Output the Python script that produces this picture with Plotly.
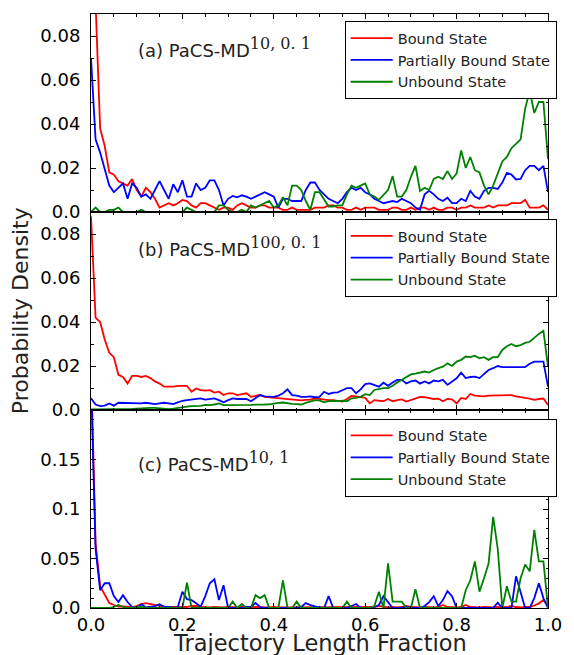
import plotly.graph_objects as go
from plotly.subplots import make_subplots

# x grid: trajectory length fraction (101 bins)
x_frac = [round(i * 0.01, 2) for i in range(101)]

# ---- Panel (a) PaCS-MD 10,0.1 ----
bound_a = [0.25, 0.095, 0.038, 0.030, 0.018, 0.017, 0.014, 0.013, 0.012, 0.015,
           0.010, 0.007, 0.011, 0.009, 0.006, 0.002, 0.003, 0.004, 0.003, 0.004,
           0.0055, 0.005, 0.003, 0.002, 0.004, 0.004, 0.003, 0.002, 0.001, 0.002,
           0.002, 0.001, 0.003, 0.004, 0.003, 0.002, 0.002, 0.003, 0.003, 0.002,
           0.002, 0.002, 0.001, 0.001, 0.002, 0.001, 0.001, 0.001, 0.001, 0.002,
           0.002, 0.002, 0.003, 0.003, 0.002, 0.002, 0.001, 0.001, 0.002, 0.001,
           0.002, 0.002, 0.002, 0.001, 0.001, 0.001, 0.002, 0.002, 0.001, 0.001,
           0.002, 0.001, 0.002, 0.002, 0.001, 0.002, 0.001, 0.001, 0.002, 0.002,
           0.001, 0.002, 0.002, 0.003, 0.002, 0.002, 0.002, 0.003, 0.002, 0.003,
           0.003, 0.003, 0.004, 0.004, 0.004, 0.0055, 0.002, 0.002, 0.002, 0.003,
           0.001]
partial_a = [0.070, 0.033, 0.027, 0.019, 0.012, 0.009, 0.011, 0.013, 0.006, 0.013,
             0.011, 0.007, 0.008, 0.006, 0.010, 0.014, 0.010, 0.006, 0.0126, 0.009,
             0.0144, 0.007, 0.007, 0.013, 0.010, 0.011, 0.0144, 0.0144, 0.010, 0.003,
             0.006, 0.0073, 0.0067, 0.0076, 0.007, 0.006, 0.007, 0.008, 0.009, 0.008,
             0.007, 0.002, 0.006, 0.006, 0.005, 0.005, 0.005, 0.010, 0.0134, 0.0134,
             0.010, 0.008, 0.006, 0.005, 0.004, 0.006, 0.009, 0.011, 0.010, 0.011,
             0.009, 0.008, 0.006, 0.005, 0.004, 0.0045, 0.005, 0.0045, 0.006, 0.005,
             0.004, 0.002, 0.001, 0.008, 0.0096, 0.008, 0.006, 0.005, 0.0065, 0.004,
             0.004, 0.006, 0.005, 0.0096, 0.007, 0.006, 0.0096, 0.011, 0.011, 0.0105,
             0.0134, 0.0178, 0.017, 0.0148, 0.015, 0.019, 0.021, 0.021, 0.019, 0.021,
             0.009]
unbound_a = [0, 0.002, 0, 0, 0.001, 0.001, 0.002, 0, 0, 0,
             0, 0.001, 0, 0, 0, 0, 0, 0, 0, 0,
             0, 0.002, 0.001, 0, 0, 0, 0, 0, 0.003, 0.003,
             0.001, 0, 0, 0.001, 0, 0.003, 0.002, 0.003, 0.004, 0.005,
             0.002, 0.003, 0.0067, 0.003, 0.012, 0.012, 0.010, 0.005, 0.001, 0.009,
             0.009, 0.006, 0.0025, 0.0025, 0.003, 0.003, 0.008, 0.012, 0.011, 0.012,
             0.013, 0.008, 0.007, 0.0055, 0.008, 0.010, 0.0163, 0.007, 0.007, 0.010,
             0.016, 0.021, 0.0096, 0.011, 0.010, 0.015, 0.016, 0.015, 0.0186, 0.015,
             0.0175, 0.028, 0.020, 0.025, 0.019, 0.018, 0.012, 0.008, 0.012, 0.018,
             0.023, 0.025, 0.029, 0.031, 0.033, 0.047, 0.055, 0.045, 0.050, 0.050,
             0.024]

# ---- Panel (b) PaCS-MD 100,0.1 ----
bound_b = [0.088, 0.042, 0.040, 0.032, 0.026, 0.024, 0.016, 0.015, 0.012, 0.0155,
           0.0155, 0.015, 0.0155, 0.0145, 0.013, 0.012, 0.0106, 0.0106, 0.0106, 0.011,
           0.011, 0.011, 0.0083, 0.0098, 0.009, 0.0088, 0.009, 0.0079, 0.0083, 0.0068,
           0.0076, 0.0076, 0.0068, 0.0072, 0.0076, 0.006, 0.0065, 0.0068, 0.006, 0.0058,
           0.0055, 0.0052, 0.005, 0.0048, 0.0049, 0.0045, 0.0044, 0.0046, 0.0047, 0.0053,
           0.005, 0.0046, 0.0045, 0.0045, 0.004, 0.0038, 0.005, 0.0064, 0.0062, 0.006,
           0.0055, 0.003, 0.0045, 0.0042, 0.004, 0.005, 0.004, 0.0045, 0.0048, 0.0038,
           0.0045, 0.0053, 0.006, 0.0058, 0.0055, 0.005, 0.0052, 0.004, 0.005, 0.0048,
           0.003, 0.0055, 0.005, 0.0073, 0.0065, 0.0064, 0.0062, 0.0065, 0.0066, 0.0066,
           0.0066, 0.007, 0.0068, 0.0062, 0.006, 0.0055, 0.0052, 0.0046, 0.005, 0.0052,
           0.0023]
partial_b = [0.0053, 0.0025, 0.0018, 0.002, 0.003, 0.002, 0.0033, 0.0032, 0.003, 0.003,
             0.0028, 0.003, 0.0033, 0.003, 0.0027, 0.003, 0.0033, 0.003, 0.0027, 0.0035,
             0.0042, 0.0045, 0.0047, 0.005, 0.0053, 0.0047, 0.005, 0.0053, 0.0045, 0.0035,
             0.0045, 0.0053, 0.005, 0.005, 0.005, 0.004, 0.0055, 0.0068, 0.0062, 0.006,
             0.006, 0.0065, 0.0076, 0.0094, 0.0068, 0.0065, 0.006, 0.006, 0.0062, 0.0058,
             0.006, 0.0083, 0.0073, 0.0079, 0.008, 0.009, 0.0099, 0.0099, 0.0076, 0.0094,
             0.0118, 0.0121, 0.0112, 0.0106, 0.0124, 0.011, 0.0125, 0.0137, 0.0137, 0.0121,
             0.013, 0.0134, 0.012, 0.013, 0.0121, 0.0134, 0.013, 0.0137, 0.0114, 0.013,
             0.0144, 0.017, 0.0145, 0.015, 0.0152, 0.0145, 0.0165, 0.0182, 0.019, 0.020,
             0.0195, 0.0195, 0.0195, 0.0192, 0.0195, 0.0195, 0.021, 0.022, 0.022, 0.022,
             0.0106]
unbound_b = [0.0003, 0.0003, 0.0002, 0.0003, 0.0004, 0.0003, 0.0004, 0.0003, 0.0004, 0.0005,
             0.0006, 0.0008, 0.0008, 0.001, 0.001, 0.0008, 0.0005, 0.0004, 0.0006, 0.001,
             0.0012, 0.0015, 0.0018, 0.0018, 0.0019, 0.0023, 0.0022, 0.0025, 0.003, 0.0022,
             0.0022, 0.0022, 0.002, 0.0022, 0.0023, 0.0023, 0.0024, 0.0023, 0.0025, 0.0026,
             0.003, 0.0032, 0.0034, 0.003, 0.0028, 0.0027, 0.0025, 0.0032, 0.0038, 0.0045,
             0.0044, 0.0035, 0.004, 0.0042, 0.004, 0.0042, 0.004, 0.0053, 0.0055, 0.006,
             0.0072, 0.0068, 0.0091, 0.0095, 0.0099, 0.0099, 0.011, 0.0125, 0.0137, 0.015,
             0.0162, 0.0165, 0.017, 0.0175, 0.017, 0.0182, 0.019, 0.0197, 0.0212, 0.020,
             0.022, 0.0228, 0.0243, 0.024, 0.0247, 0.0235, 0.024, 0.0228, 0.024, 0.024,
             0.0273, 0.029, 0.030, 0.029, 0.0295, 0.0305, 0.031, 0.033, 0.0346, 0.036,
             0.0197]

# ---- Panel (c) PaCS-MD 10,1 ----
bound_c = [0.25, 0.065, 0.022, 0.013, 0.005, 0.003, 0.0015, 0.0015, 0.001, 0.001,
           0.002, 0.004, 0.005, 0.004, 0.003, 0.002, 0.0013, 0.001, 0.001, 0.0008,
           0.001, 0.001, 0.002, 0.002, 0.001, 0.0005, 0.0005, 0.001, 0.0005, 0.0005,
           0.001, 0.0005, 0.0005, 0.001, 0.0005, 0.0005, 0.001, 0.0005, 0.0005, 0.0005,
           0.001, 0.0005, 0.0005, 0.001, 0.0005, 0.0005, 0.0005, 0.001, 0.0005, 0.0005,
           0.001, 0.0005, 0.0005, 0.001, 0.0005, 0.0005, 0.001, 0.0005, 0.0005, 0.001,
           0.0005, 0.0005, 0.001, 0.002, 0.001, 0.0005, 0.001, 0.0005, 0.001, 0.002,
           0.001, 0.0005, 0.0005, 0.001, 0.0005, 0.0005, 0.001, 0.003, 0.001, 0.0005,
           0.0005, 0.001, 0.003, 0.001, 0.0005, 0.0005, 0.001, 0.0005, 0.0005, 0.001,
           0.0005, 0.001, 0.002, 0.001, 0.0005, 0.001, 0.001, 0.0025, 0.0047, 0.008,
           0.002]
partial_c = [0.23, 0.06, 0.018, 0.025, 0.025, 0.012, 0.006, 0.013, 0.006, 0.001,
             0.0005, 0.0037, 0.0007, 0.001, 0.002, 0.0037, 0.0013, 0.001, 0.0, 0.001,
             0.0165, 0.009, 0.008, 0.0047, 0.0013, 0.012, 0.025, 0.029, 0.008, 0.023,
             0.0, 0.0, 0.0, 0.0, 0.001, 0.001, 0.005, 0.001, 0.0, 0.0,
             0.0, 0.0, 0.0, 0.0, 0.0, 0.0, 0.001, 0.005, 0.003, 0.0015,
             0.0005, 0.0, 0.012, 0.0, 0.0, 0.0, 0.0, 0.002, 0.004, 0.0,
             0.0, 0.0, 0.001, 0.003, 0.012, 0.0064, 0.0, 0.0, 0.0, 0.001,
             0.0, 0.0, 0.0, 0.002, 0.006, 0.012, 0.002, 0.008, 0.017, 0.012,
             0.0, 0.0, 0.0, 0.0, 0.0, 0.0, 0.0, 0.0, 0.0, 0.0054,
             0.0, 0.0, 0.0, 0.032, 0.0165, 0.0, 0.0, 0.01, 0.025, 0.01,
             0.0]
unbound_c = [0, 0, 0, 0, 0, 0.001, 0.003, 0.001, 0, 0,
             0.001, 0.001, 0, 0, 0, 0, 0, 0, 0, 0,
             0.0, 0.0256, 0.0, 0, 0, 0, 0, 0, 0, 0,
             0, 0.0064, 0, 0.004, 0, 0, 0.013, 0.01, 0.013, 0,
             0, 0, 0.028, 0, 0, 0.0064, 0, 0, 0, 0.0,
             0, 0, 0, 0, 0, 0, 0.0064, 0, 0, 0,
             0.0, 0.0, 0.002, 0.0165, 0.0, 0.045, 0.0064, 0.0064, 0.0064, 0.0,
             0.0, 0.019, 0.0, 0, 0, 0, 0, 0, 0, 0,
             0.0, 0.0, 0.018, 0.028, 0.047, 0.0165, 0.030, 0.045, 0.092, 0.06,
             0.0, 0.022, 0.0064, 0.0064, 0.030, 0.044, 0.037, 0.079, 0.047, 0.047,
             0.0]

series_names = ["Bound State", "Partially Bound State", "Unbound State"]
series_colors = ["#ff0000", "#0000ff", "#008000"]
panels = [
    (bound_a, partial_a, unbound_a),
    (bound_b, partial_b, unbound_b),
    (bound_c, partial_c, unbound_c),
]
panel_titles = ["(a) PaCS-MD", "(b) PaCS-MD", "(c) PaCS-MD"]
panel_sups = ["10, 0. 1", "100, 0. 1", "10, 1"]
y_ranges = [[0, 0.09], [0, 0.09], [0, 0.2]]
y_tickvals = [[0, 0.02, 0.04, 0.06, 0.08], [0, 0.02, 0.04, 0.06, 0.08], [0, 0.05, 0.1, 0.15]]
y_ticktext = [["0.0", "0.02", "0.04", "0.06", "0.08"], ["0.0", "0.02", "0.04", "0.06", "0.08"],
              ["0.0", "0.05", "0.1", "0.15"]]
x_tickvals = [0, 0.2, 0.4, 0.6, 0.8, 1.0]
x_ticktext = ["0.0", "0.2", "0.4", "0.6", "0.8", "1.0"]

FONT = "DejaVu Sans"

fig = make_subplots(rows=3, cols=1, shared_xaxes=True, vertical_spacing=0)
legend_ids = ["legend", "legend2", "legend3"]
for p, data in enumerate(panels):
    for s, ys in enumerate(data):
        fig.add_trace(go.Scatter(x=x_frac, y=ys, mode="lines", name=series_names[s],
                                 line=dict(color=series_colors[s], width=1.8),
                                 legend=legend_ids[p], showlegend=True),
                      row=p + 1, col=1)

axis_common = dict(showline=True, linecolor="black", linewidth=1, mirror="allticks",
                   ticks="inside", ticklen=5, tickcolor="black", showgrid=False, zeroline=False,
                   tickfont=dict(family=FONT, size=18, color="black"))
for p in range(3):
    fig.update_xaxes(range=[0, 1], tickvals=x_tickvals, ticktext=x_ticktext,
                     showticklabels=(p == 2), ticklabelstandoff=0,
                     minor=dict(dtick=0.05, ticks="inside", ticklen=2.5, tickcolor="black"),
                     **axis_common, row=p + 1, col=1)
    fig.update_yaxes(range=y_ranges[p], tickvals=y_tickvals[p], ticktext=y_ticktext[p],
                     minor=dict(dtick=0.01, ticks="inside", ticklen=2.5, tickcolor="black"),
                     ticklabelstandoff=6, **axis_common, row=p + 1, col=1)

# legends
leg_tops = [0.988, 0.655, 0.319]
layout_legends = {}
for p in range(3):
    layout_legends[legend_ids[p]] = dict(
        x=1.019, y=leg_tops[p], xanchor="right", yanchor="top",
        bordercolor="black", borderwidth=1, bgcolor="white",
        font=dict(family=FONT, size=14.5, color="#222222"),
        tracegroupgap=0, itemwidth=42)

annotations = []
ann_y = [0.944, 0.608, 0.246]
for p in range(3):
    annotations.append(dict(
        xref="paper", yref="paper", x=0.098, y=ann_y[p], xanchor="left", yanchor="middle",
        showarrow=False,
        text=panel_titles[p] + "<sup><span style='font-family:DejaVu Serif;font-size:16px'>"
        + panel_sups[p] + "</span></sup>",
        font=dict(family=FONT, size=18, color="#222222")))
annotations.append(dict(xref="paper", yref="paper", x=-0.155, y=0.5, textangle=-90,
                        xanchor="center", yanchor="middle",
                        showarrow=False, text="Probability Density",
                        font=dict(family=FONT, size=22, color="#222222")))
annotations.append(dict(xref="paper", yref="paper", x=0.5, y=-0.0585, yanchor="middle",
                        xanchor="center",
                        showarrow=False, text="Trajectory Length Fraction",
                        font=dict(family=FONT, size=22.5, color="#222222")))

fig.update_layout(width=574, height=655,
                  margin=dict(l=91, r=14, t=14, b=47),
                  paper_bgcolor="white", plot_bgcolor="white",
                  annotations=annotations, **layout_legends)

fig.write_html("out.html")
